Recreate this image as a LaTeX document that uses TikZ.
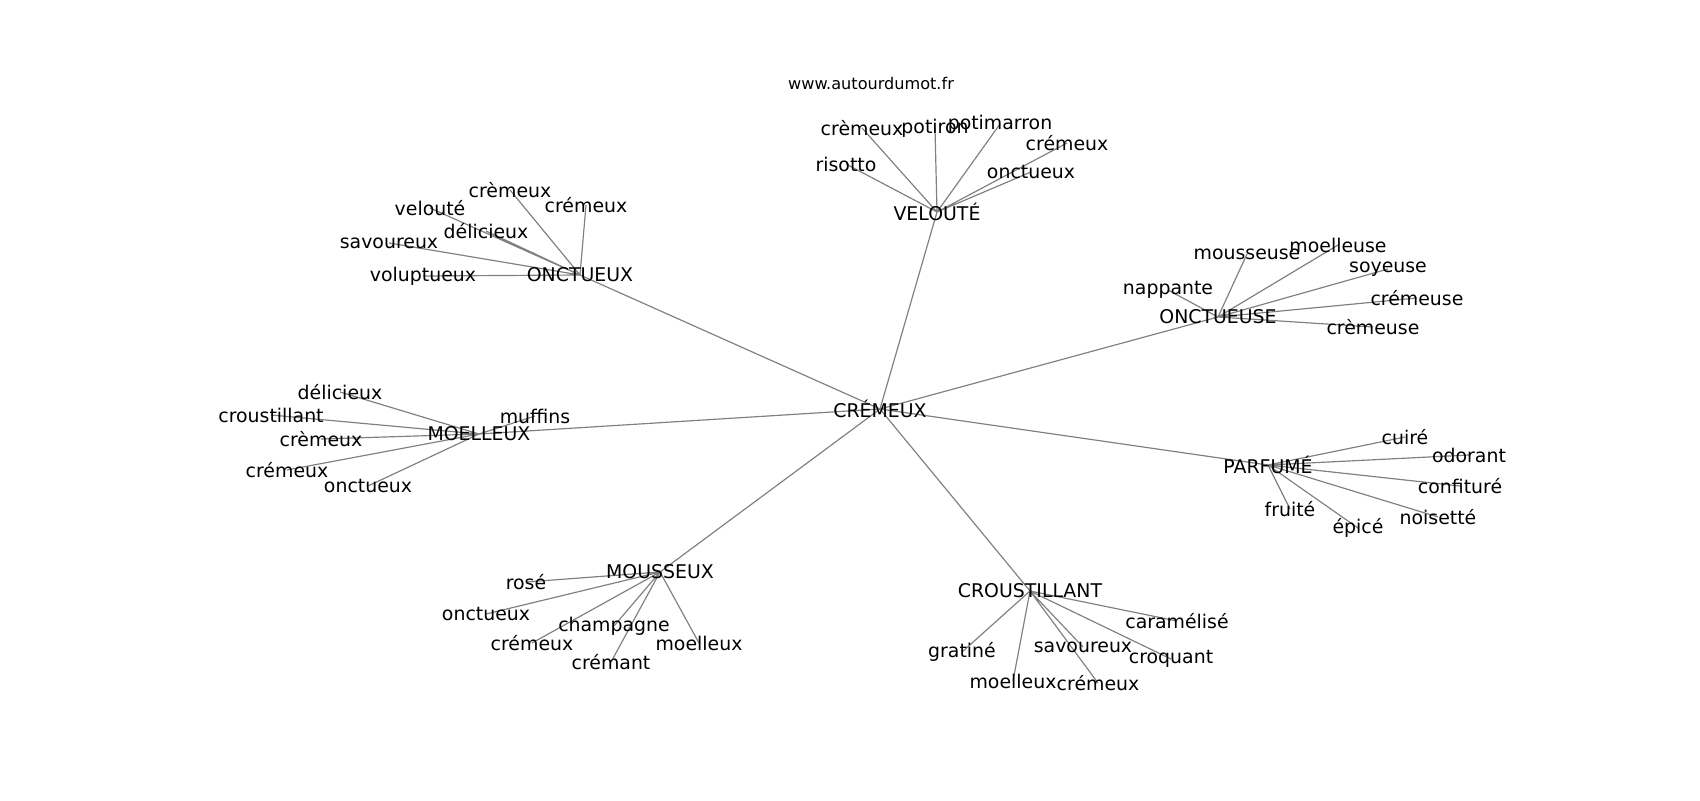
\documentclass[tikz,border=0pt]{standalone}
\usepackage{fontspec}
\setmainfont{DejaVu Sans}
\usetikzlibrary{backgrounds}

\begin{document}
\begin{tikzpicture}[
    x=0.72pt, y=-0.72pt,
    mot/.style={inner sep=0pt, font=\fontsize{13.6}{16}\selectfont},
    titre/.style={inner sep=0pt, font=\fontsize{11.6}{14}\selectfont},
    lien/.style={draw=gray, line width=0.85pt}
]
    \useasboundingbox (0,0) rectangle (1700,800);

    % Titre
    \node[titre] (site) at (871,83) {www.autourdumot.fr};

    % Centre et poles
    \node[mot] (cremeux) at (880,409) {CRÉMEUX};
    \node[mot] (veloute) at (937,212) {VELOUTÉ};
    \node[mot] (onctueux) at (580,275) {ONCTUEUX};
    \node[mot] (onctueuse) at (1218,317) {ONCTUEUSE};
    \node[mot] (moelleux) at (479,434) {MOELLEUX};
    \node[mot] (parfume) at (1268,465) {PARFUMÉ};
    \node[mot] (mousseux) at (660,572) {MOUSSEUX};
    \node[mot] (croustillant) at (1030,591) {CROUSTILLANT};

    % Mots autour de VELOUTE
    \node[mot] (v-risotto) at (846,164) {risotto};
    \node[mot] (v-cremeux) at (862,128) {crèmeux};
    \node[mot] (v-potiron) at (935,128) {potiron};
    \node[mot] (v-potimarron) at (1000,124) {potimarron};
    \node[mot] (v-cremeux2) at (1067,143) {crémeux};
    \node[mot] (v-onctueux) at (1031,172) {onctueux};

    % Mots autour de ONCTUEUX
    \node[mot] (o-cremeux) at (510,190) {crèmeux};
    \node[mot] (o-cremeux2) at (586,205) {crémeux};
    \node[mot] (o-veloute) at (430,208) {velouté};
    \node[mot] (o-delicieux) at (486,231) {délicieux};
    \node[mot] (o-savoureux) at (389,243) {savoureux};
    \node[mot] (o-voluptueux) at (423,276) {voluptueux};

    % Mots autour de ONCTUEUSE
    \node[mot] (oe-mousseuse) at (1247,254) {mousseuse};
    \node[mot] (oe-moelleuse) at (1338,245) {moelleuse};
    \node[mot] (oe-soyeuse) at (1388,269) {soyeuse};
    \node[mot] (oe-nappante) at (1168,290) {nappante};
    \node[mot] (oe-cremeuse) at (1417,298) {crémeuse};
    \node[mot] (oe-cremeuse2) at (1373,327) {crèmeuse};

    % Mots autour de MOELLEUX
    \node[mot] (m-delicieux) at (340,392) {délicieux};
    \node[mot] (m-croustillant) at (271,415) {croustillant};
    \node[mot] (m-cremeux) at (321,439) {crèmeux};
    \node[mot] (m-cremeux2) at (287,470) {crémeux};
    \node[mot] (m-onctueux) at (368,486) {onctueux};
    \node[mot] (m-muffins) at (535,416) {muffins};

    % Mots autour de PARFUME
    \node[mot] (p-cuire) at (1405,437) {cuiré};
    \node[mot] (p-odorant) at (1469,455) {odorant};
    \node[mot] (p-confiture) at (1460,486) {confituré};
    \node[mot] (p-noisette) at (1438,517) {noisetté};
    \node[mot] (p-epice) at (1358,528) {épicé};
    \node[mot] (p-fruite) at (1290,509) {fruité};

    % Mots autour de MOUSSEUX
    \node[mot] (ms-rose) at (526,582) {rosé};
    \node[mot] (ms-onctueux) at (486,614) {onctueux};
    \node[mot] (ms-champagne) at (614,626) {champagne};
    \node[mot] (ms-cremeux) at (532,643) {crémeux};
    \node[mot] (ms-cremant) at (611,662) {crémant};
    \node[mot] (ms-moelleux) at (699,643) {moelleux};

    % Mots autour de CROUSTILLANT
    \node[mot] (c-caramelise) at (1177,621) {caramélisé};
    \node[mot] (c-gratine) at (962,652) {gratiné};
    \node[mot] (c-savoureux) at (1083,647) {savoureux};
    \node[mot] (c-croquant) at (1171,659) {croquant};
    \node[mot] (c-moelleux) at (1013,681) {moelleux};
    \node[mot] (c-cremeux) at (1098,683) {crémeux};

    % Liens
    \begin{scope}[on background layer]
        \draw[lien] (cremeux.center) -- (veloute.center) (cremeux.center) -- (onctueux.center)
            (cremeux.center) -- (onctueuse.center) (cremeux.center) -- (moelleux.center)
            (cremeux.center) -- (parfume.center) (cremeux.center) -- (mousseux.center)
            (cremeux.center) -- (croustillant.center);
        \draw[lien] (veloute.center) -- (v-risotto.center) (veloute.center) -- (v-cremeux.center)
            (veloute.center) -- (v-potiron.center) (veloute.center) -- (v-potimarron.center)
            (veloute.center) -- (v-cremeux2.center) (veloute.center) -- (v-onctueux.center);
        \draw[lien] (onctueux.center) -- (o-cremeux.center) (onctueux.center) -- (o-cremeux2.center)
            (onctueux.center) -- (o-veloute.center) (onctueux.center) -- (o-delicieux.center)
            (onctueux.center) -- (o-savoureux.center) (onctueux.center) -- (o-voluptueux.center);
        \draw[lien] (onctueuse.center) -- (oe-mousseuse.center) (onctueuse.center) -- (oe-moelleuse.center)
            (onctueuse.center) -- (oe-soyeuse.center) (onctueuse.center) -- (oe-nappante.center)
            (onctueuse.center) -- (oe-cremeuse.center) (onctueuse.center) -- (oe-cremeuse2.center);
        \draw[lien] (moelleux.center) -- (m-delicieux.center) (moelleux.center) -- (m-croustillant.center)
            (moelleux.center) -- (m-cremeux.center) (moelleux.center) -- (m-cremeux2.center)
            (moelleux.center) -- (m-onctueux.center) (moelleux.center) -- (m-muffins.center);
        \draw[lien] (parfume.center) -- (p-cuire.center) (parfume.center) -- (p-odorant.center)
            (parfume.center) -- (p-confiture.center) (parfume.center) -- (p-noisette.center)
            (parfume.center) -- (p-epice.center) (parfume.center) -- (p-fruite.center);
        \draw[lien] (mousseux.center) -- (ms-rose.center) (mousseux.center) -- (ms-onctueux.center)
            (mousseux.center) -- (ms-champagne.center) (mousseux.center) -- (ms-cremeux.center)
            (mousseux.center) -- (ms-cremant.center) (mousseux.center) -- (ms-moelleux.center);
        \draw[lien] (croustillant.center) -- (c-caramelise.center) (croustillant.center) -- (c-gratine.center)
            (croustillant.center) -- (c-savoureux.center) (croustillant.center) -- (c-croquant.center)
            (croustillant.center) -- (c-moelleux.center) (croustillant.center) -- (c-cremeux.center);
    \end{scope}
\end{tikzpicture}
\end{document}
